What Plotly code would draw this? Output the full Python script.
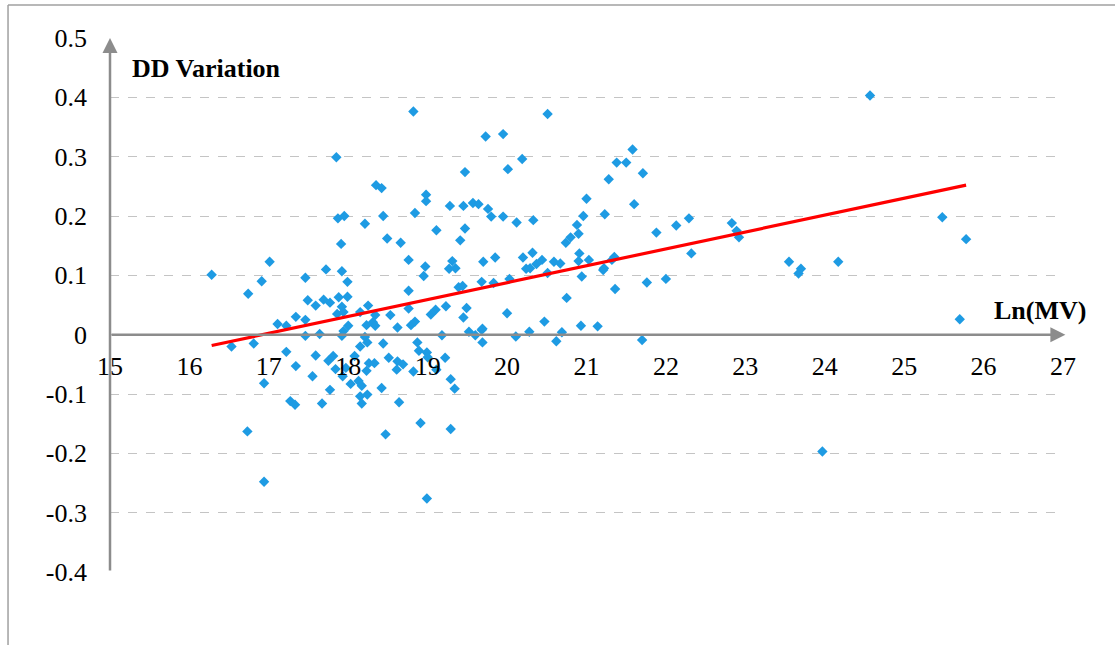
import numpy as np
import plotly.graph_objects as go

ln_mv = [
    18.82, 17.85, 19.47, 18.35, 18.42, 18.98, 18.98, 19.28, 19.45, 19.57, 19.64,
    17.87, 17.95, 18.44, 18.84, 18.21, 19.11, 19.47, 19.41, 17.91, 18.49, 18.66,
    17.01, 18.76, 18.97, 19.31, 19.27, 19.35, 16.28, 17.72, 17.92, 18.95, 17.46,
    16.91, 16.74, 17.99, 18.76, 17.49, 17.59, 17.69, 17.77, 17.88, 17.99, 17.92,
    17.86, 17.94, 17.34, 17.46, 17.11, 17.22, 18.00, 17.94, 17.92, 17.46, 17.64,
    18.15, 18.25, 18.23, 18.31, 18.34, 18.34, 18.53, 18.62, 18.76, 18.79, 18.84,
    19.04, 19.10, 19.23, 19.39, 19.44, 19.49, 19.45, 19.52, 19.60, 19.18,
    16.53, 16.81, 17.22, 17.34, 16.94, 17.55, 17.59, 17.75, 17.81, 17.84, 17.93,
    17.97, 18.08, 18.03, 18.13, 18.17, 18.15, 18.21, 18.24, 18.26, 18.33, 18.23,
    17.77, 17.27, 17.33, 17.67, 18.15, 18.24, 18.17, 18.42, 18.44, 18.51, 18.62,
    18.61, 18.69, 18.64, 18.87, 18.89, 18.99, 19.00, 18.82, 19.11, 19.22, 19.29,
    19.34, 18.91, 19.29, 18.47, 16.73, 16.94, 18.99,
    20.51, 19.73, 19.95, 20.19, 20.01, 21.58, 21.38, 21.50, 21.28, 21.71, 21.00,
    21.60, 19.76, 19.80, 19.95, 20.12, 20.33, 20.96, 21.23, 20.88, 20.90, 20.80,
    20.74, 21.88, 22.13, 22.29, 22.32, 19.70, 19.85, 20.20, 20.32, 20.24, 20.29,
    20.37, 20.44, 20.59, 20.67, 20.91, 20.90, 21.03, 21.21, 21.22, 21.35, 21.32,
    20.51, 20.94, 20.03,
    19.68, 19.83, 21.76, 22.00, 21.36, 20.75, 20.00, 20.47, 20.93, 21.14, 19.68,
    19.69, 19.69, 20.11, 20.28, 20.69, 20.62, 21.70,
    24.57, 22.83, 22.89, 22.92, 23.55, 23.67, 23.70, 24.17, 25.48, 25.78, 25.70, 23.97,
]

dd_variation = [
    0.376, 0.299, 0.274, 0.252, 0.247, 0.236, 0.225, 0.217, 0.217, 0.222, 0.220,
    0.196, 0.200, 0.200, 0.205, 0.187, 0.176, 0.179, 0.159, 0.153, 0.162, 0.155,
    0.123, 0.126, 0.115, 0.124, 0.111, 0.112, 0.101, 0.110, 0.107, 0.099, 0.096,
    0.090, 0.069, 0.089, 0.074, 0.058, 0.049, 0.059, 0.054, 0.063, 0.064, 0.047,
    0.035, 0.038, 0.030, 0.025, 0.018, 0.015, 0.015, 0.006, -0.002, -0.002, 0.001,
    0.038, 0.049, 0.016, 0.021, 0.015, 0.033, 0.033, 0.012, 0.044, 0.016, 0.022,
    0.034, 0.042, 0.048, 0.080, 0.082, 0.045, 0.029, 0.005, -0.001, -0.001,
    -0.020, -0.015, -0.029, -0.053, -0.082, -0.070, -0.035, -0.044, -0.036, -0.058, -0.070,
    -0.056, -0.036, -0.083, -0.078, -0.086, -0.020, -0.004, -0.013, -0.048, -0.048, -0.061,
    -0.093, -0.112, -0.118, -0.116, -0.104, -0.101, -0.116, -0.090, -0.015, -0.039, -0.045,
    -0.059, -0.050, -0.114, -0.013, -0.027, -0.030, -0.038, -0.062, -0.059, -0.039, -0.075,
    -0.091, -0.149, -0.159, -0.168, -0.163, -0.248, -0.276,
    0.372, 0.334, 0.338, 0.296, 0.279, 0.312, 0.290, 0.290, 0.262, 0.272, 0.229,
    0.220, 0.212, 0.199, 0.199, 0.189, 0.193, 0.200, 0.203, 0.185, 0.170, 0.164,
    0.155, 0.172, 0.184, 0.196, 0.137, 0.123, 0.130, 0.130, 0.138, 0.111, 0.112,
    0.119, 0.126, 0.123, 0.120, 0.137, 0.124, 0.126, 0.109, 0.112, 0.131, 0.126,
    0.104, 0.098, 0.094,
    0.089, 0.087, 0.088, 0.094, 0.077, 0.062, 0.036, 0.022, 0.015, 0.014, 0.008,
    0.010, -0.013, -0.003, 0.005, 0.004, -0.011, -0.009,
    0.403, 0.188, 0.175, 0.164, 0.123, 0.103, 0.111, 0.123, 0.198, 0.161, 0.026, -0.197,
]

x_tick_vals = list(range(15, 28))
x_tick_text = [str(v) for v in x_tick_vals]
y_tick_vals = [0.5, 0.4, 0.3, 0.2, 0.1, 0.0, -0.1, -0.2, -0.3, -0.4]
y_tick_text = ["0.5", "0.4", "0.3", "0.2", "0.1", "0", "-0.1", "-0.2", "-0.3", "-0.4"]

x_arr = np.array(ln_mv)
y_arr = np.array(dd_variation)
slope, intercept = np.polyfit(x_arr, y_arr, 1)
trend_x = np.array([x_arr.min(), x_arr.max()])
trend_y = slope * trend_x + intercept

FONT = "Liberation Serif"
AXIS_GRAY = "#8c8c8c"

fig = go.Figure()
fig.add_trace(go.Scatter(
    x=ln_mv, y=dd_variation, mode="markers",
    marker=dict(symbol="diamond", size=8, color="#1e9be3"),
    showlegend=False, hoverinfo="x+y",
))
fig.add_trace(go.Scatter(
    x=trend_x, y=trend_y, mode="lines",
    line=dict(color="#ff0000", width=3.2),
    showlegend=False,
))

fig.update_layout(
    width=1115, height=645,
    margin=dict(l=110, r=52, t=38, b=73),
    paper_bgcolor="white", plot_bgcolor="white",
    font=dict(family=FONT, size=26, color="black"),
    xaxis=dict(
        range=[15, 27], tickvals=x_tick_vals, ticktext=x_tick_text,
        showgrid=False, zeroline=False, showline=False,
        anchor="free", position=(0 - (-0.4)) / (0.5 - (-0.4)),
        ticks="", ticklabelstandoff=13,
        tickfont=dict(family=FONT, size=26),
    ),
    yaxis=dict(
        range=[-0.4, 0.5], tickvals=y_tick_vals, ticktext=y_tick_text,
        showgrid=True, gridcolor="#c4c4c4", griddash="dash", gridwidth=1,
        zeroline=False, showline=False, ticks="", ticklabelstandoff=22,
        tickfont=dict(family=FONT, size=26),
    ),
    shapes=[
        dict(type="line", xref="paper", yref="paper", x0=-0.107, x1=1.06,
             y0=1.062, y1=1.062, line=dict(color="#a0a0a0", width=1.5)),
        dict(type="line", xref="paper", yref="paper", x0=-0.107, x1=-0.107,
             y0=1.062, y1=-0.14, line=dict(color="#a0a0a0", width=1.5)),
    ],
    annotations=[
        dict(x=15, y=0.5, xref="x", yref="y", ax=15, ay=-0.4, axref="x", ayref="y",
             showarrow=True, arrowhead=2, arrowsize=1.2, arrowwidth=2.5,
             arrowcolor=AXIS_GRAY, text=""),
        dict(x=27.03, y=0, xref="x", yref="y", ax=15, ay=0, axref="x", ayref="y",
             showarrow=True, arrowhead=2, arrowsize=1.2, arrowwidth=2.5,
             arrowcolor=AXIS_GRAY, text=""),
        dict(x=15.25, y=0.448, xref="x", yref="y", text="<b>DD Variation</b>",
             showarrow=False, xanchor="left", yanchor="middle",
             font=dict(family=FONT, size=26)),
        dict(x=1.0262, y=0.041, xref="paper", yref="y", text="<b>Ln(MV)</b>",
             showarrow=False, xanchor="right", yanchor="middle",
             font=dict(family=FONT, size=26)),
    ],
)

fig.write_html("out.html", config={"displayModeBar": False},
               post_script="document.body.style.margin='0';")
